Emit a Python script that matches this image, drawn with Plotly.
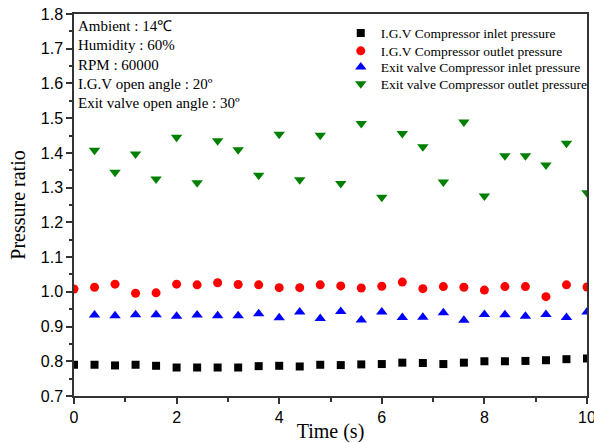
import plotly.graph_objects as go

time_s = [round(0.4 * i, 1) for i in range(26)]

igv_inlet = [0.790, 0.790, 0.788, 0.790, 0.787, 0.782, 0.782, 0.782, 0.782, 0.786,
             0.787, 0.785, 0.790, 0.789, 0.791, 0.792, 0.796, 0.795, 0.792, 0.796,
             0.800, 0.800, 0.801, 0.803, 0.806, 0.808]
igv_outlet = [1.008, 1.013, 1.022, 0.996, 0.997, 1.022, 1.020, 1.026, 1.021, 1.020,
              1.012, 1.012, 1.020, 1.017, 1.011, 1.016, 1.028, 1.009, 1.015, 1.013,
              1.005, 1.015, 1.015, 0.986, 1.020, 1.014]
exit_time = time_s[1:]
exit_inlet = [0.933, 0.931, 0.934, 0.934, 0.930, 0.933, 0.931, 0.931, 0.937, 0.925,
              0.942, 0.923, 0.943, 0.919, 0.942, 0.926, 0.927, 0.940, 0.918, 0.935,
              0.934, 0.930, 0.935, 0.926, 0.942]
exit_outlet = [1.408, 1.344, 1.397, 1.325, 1.445, 1.314, 1.435, 1.409, 1.336, 1.454,
               1.323, 1.451, 1.312, 1.485, 1.272, 1.456, 1.418, 1.316, 1.489, 1.276,
               1.392, 1.392, 1.365, 1.428, 1.285]

series_names = ["I.G.V Compressor inlet pressure", "I.G.V Compressor outlet pressure",
                "Exit valve Compressor inlet pressure", "Exit valve Compressor outlet pressure"]
info_lines = ["Ambient : 14℃", "Humidity : 60%", "RPM : 60000",
              "I.G.V open angle : 20º", "Exit valve open angle : 30º"]

serif = "Liberation Serif, Times New Roman, serif"
sans = "Liberation Sans, Arial, sans-serif"

fig = go.Figure()
fig.add_trace(go.Scatter(x=time_s, y=igv_inlet, mode="markers", name=series_names[0],
                         legend="legend",
                         marker=dict(symbol="square", size=8, color="black")))
fig.add_trace(go.Scatter(x=time_s, y=igv_outlet, mode="markers", name=series_names[1],
                         legend="legend2",
                         marker=dict(symbol="circle", size=9, color="#ff0000")))
fig.add_trace(go.Scatter(x=exit_time, y=exit_inlet, mode="markers", name=series_names[2],
                         legend="legend3",
                         marker=dict(symbol="triangle-up", size=10, color="#0000ff")))
fig.add_trace(go.Scatter(x=exit_time, y=exit_outlet, mode="markers", name=series_names[3],
                         legend="legend4",
                         marker=dict(symbol="triangle-down", size=10, color="#008000")))

for i, line in enumerate(info_lines):
    fig.add_annotation(x=0, y=1, xref="paper", yref="paper", xanchor="left", yanchor="top",
                       xshift=2, yshift=-2 - 19.3 * i, text=line, showarrow=False,
                       font=dict(family=serif, size=15, color="black"))

axis_common = dict(showline=True, mirror=True, linecolor="#333", linewidth=1.5,
                   ticks="outside", ticklen=6, tickwidth=1.5, tickcolor="#333",
                   showgrid=False, zeroline=False, automargin=False,
                   ticklabeloverflow="allow",
                   tickfont=dict(family=sans, size=16, color="black"))

fig.update_xaxes(range=[0, 10], dtick=2, tick0=0,
                 minor=dict(ticks="outside", ticklen=4, dtick=1, tickcolor="#333", tickwidth=1.5),
                 title=dict(text="Time (s)", font=dict(family=serif, size=20, color="black"), standoff=2),
                 **axis_common)
fig.update_yaxes(range=[0.7, 1.8], dtick=0.1, tick0=0.7, tickformat=".1f",
                 minor=dict(ticks="outside", ticklen=3, dtick=0.05, tickcolor="#333", tickwidth=1.5),
                 title=dict(text="Pressure ratio", font=dict(family=serif, size=20, color="black"), standoff=10),
                 **axis_common)

legend_style = dict(xanchor="left", yanchor="middle", x=0.520,
                    bgcolor="rgba(0,0,0,0)", borderwidth=0,
                    font=dict(family=serif, size=13.5, color="black"), itemwidth=30)
legend_y = [0.9495, 0.903, 0.8605, 0.8168]

fig.update_layout(
    width=594, height=443,
    margin=dict(l=74, r=7, t=14, b=47, autoexpand=False),
    plot_bgcolor="white", paper_bgcolor="white",
    showlegend=True,
    legend=dict(y=legend_y[0], **legend_style),
    legend2=dict(y=legend_y[1], **legend_style),
    legend3=dict(y=legend_y[2], **legend_style),
    legend4=dict(y=legend_y[3], **legend_style),
)

fig.write_html("out.html",
               config={"displayModeBar": False},
               post_script="document.body.style.margin='0';document.body.style.overflow='hidden';")
